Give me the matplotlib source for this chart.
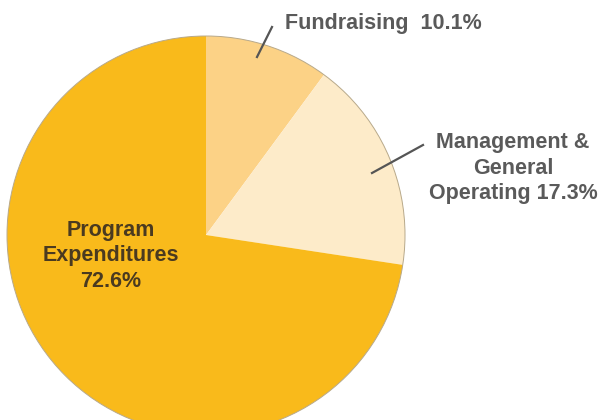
import matplotlib.pyplot as plt
from matplotlib.patches import Circle

labels = ['Fundraising  10.1%', 'Management &\nGeneral\nOperating 17.3%', 'Program\nExpenditures\n72.6%']
values = [10.1, 17.3, 72.6]
colors = ['#FCD286', '#FDEBC9', '#F9BA1B']

W, H = 615, 420
cx, cy, r = 206, H - 235, 199

plt.rcParams['font.family'] = ['Liberation Sans', 'DejaVu Sans']

fig = plt.figure(figsize=(6.15, 4.2), dpi=100)
ax = fig.add_axes([0, 0, 1, 1])
ax.pie(values, colors=colors, startangle=90, counterclock=False,
       center=(cx, cy), radius=r, frame=True,
       wedgeprops=dict(linewidth=0))
ax.add_patch(Circle((cx, cy), r, fill=False, edgecolor='#b8a98a', linewidth=0.7))
ax.set_xlim(0, W)
ax.set_ylim(0, H)
ax.axis('off')

# leader lines
ax.plot([257, 272], [H - 57, H - 27], color='#555555', lw=1.6)
ax.plot([372, 423], [H - 173, H - 145], color='#555555', lw=1.6)

ax.text(383, H - 24, labels[0], ha='center', va='center', fontsize=15.5,
        fontweight='bold', color='#5a5a5a')
ax.text(513, H - 168, labels[1], ha='center', va='center', fontsize=15.5,
        fontweight='bold', color='#5a5a5a', linespacing=1.3)
ax.text(111, H - 256, labels[2], ha='center', va='center', fontsize=15.5,
        fontweight='bold', color='#4a3a20', linespacing=1.3)

fig.savefig('out.png', dpi=100)
